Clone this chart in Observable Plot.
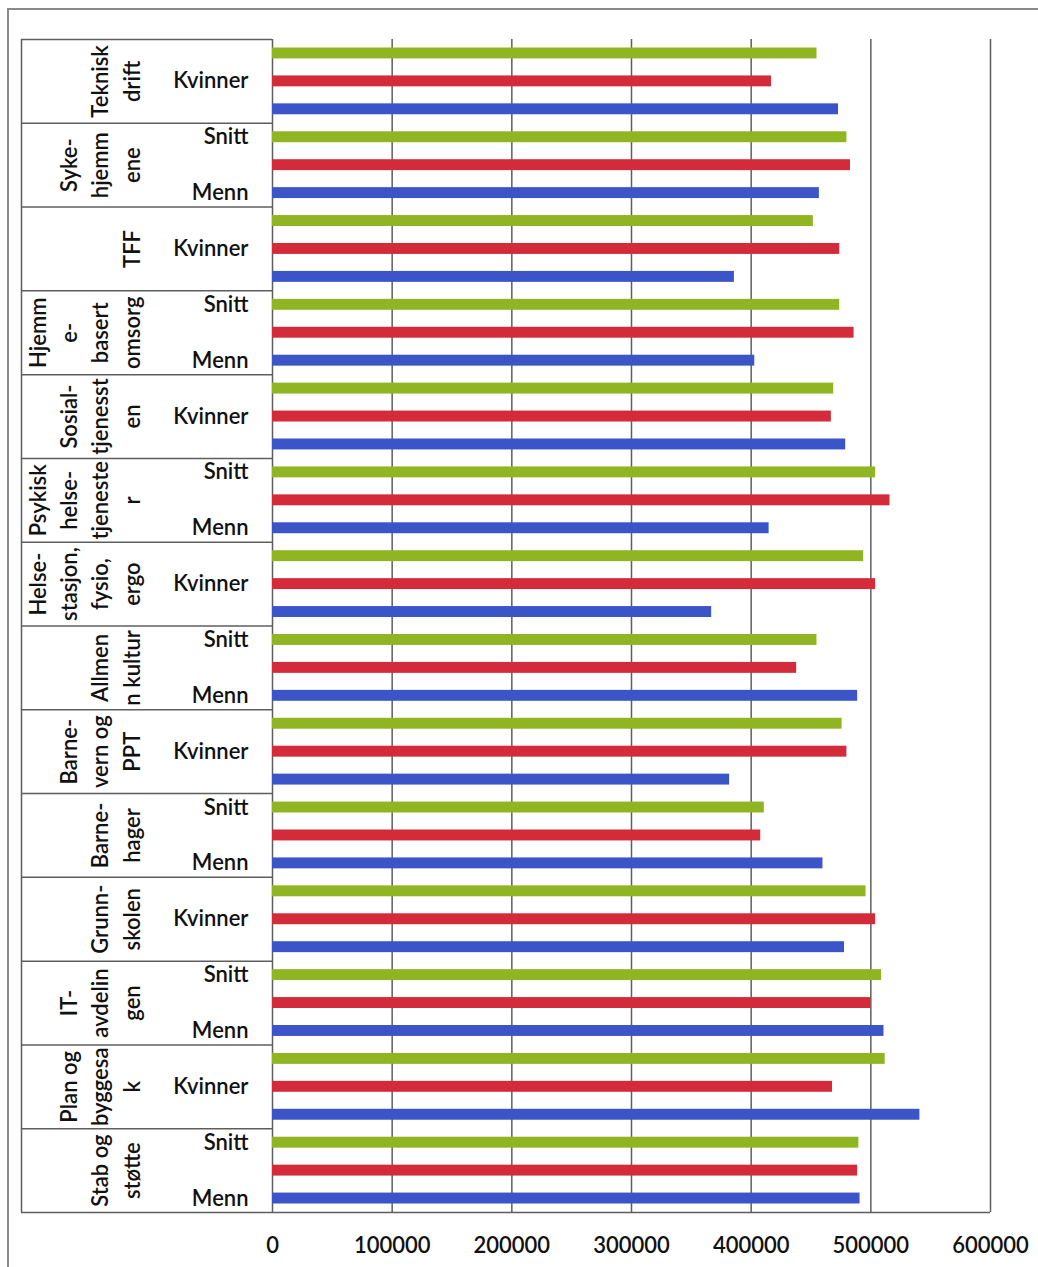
<!DOCTYPE html>
<html>
<head>
<meta charset="utf-8">
<script src="https://cdn.jsdelivr.net/npm/d3@7"></script>
<script src="https://cdn.jsdelivr.net/npm/@observablehq/plot@0.6"></script>
<style>
  html, body { margin: 0; padding: 0; background: #fff; }
  #wrap { position: relative; width: 1038px; height: 1267px; overflow: hidden; }
  #outer { position: absolute; left: 7px; top: 8px; width: 1100px; height: 1300px;
           border-left: 2px solid #8a8a8a; border-top: 2px solid #8a8a8a; box-sizing: border-box; }
  #chart { position: absolute; left: 0; top: 0; }
</style>
</head>
<body>
<div id="wrap"><div id="outer"></div><div id="chart"></div></div>
<script>
// Categories, top to bottom
const categories = ["Teknisk drift", "Sykehjemmene", "TFF", "Hjemmebasert omsorg", "Sosialtjenesten",
  "Psykisk helsetjenester", "Helsestasjon, fysio, ergo", "Allmenn kultur", "Barnevern og PPT",
  "Barnehager", "Grunnskolen", "IT-avdelingen", "Plan og byggesak", "Stab og støtte"];
// Category labels as wrapped in the original
const categoryLabels = ["Teknisk\ndrift", "Syke-\nhjemm\nene", "TFF", "Hjemm\ne-\nbasert\nomsorg",
  "Sosial-\ntjenesst\nen", "Psykisk\nhelse-\ntjeneste\nr", "Helse-\nstasjon,\nfysio,\nergo",
  "Allmen\nn kultur", "Barne-\nvern og\nPPT", "Barne-\nhager", "Grunn-\nskolen",
  "IT-\navdelin\ngen", "Plan og\nbyggesa\nk", "Stab og\nstøtte"];
const series = ["Snitt", "Kvinner", "Menn"];
const snitt   = [455000, 480000, 452000, 474000, 469000, 504000, 494000, 455000, 476000, 411000, 496000, 509000, 512000, 490000];
const kvinner = [417000, 483000, 474000, 486000, 467000, 516000, 504000, 438000, 480000, 408000, 504000, 500000, 468000, 489000];
const menn    = [473000, 457000, 386000, 403000, 479000, 415000, 367000, 489000, 382000, 460000, 478000, 511000, 541000, 491000];
const xTicks = [0, 100000, 200000, 300000, 400000, 500000, 600000];
const colors = ["#8fb622", "#d42b3b", "#3b55c8"];

const values = {Snitt: snitt, Kvinner: kvinner, Menn: menn};
const key = (c, s) => c + "|" + s;
const rows = categories.flatMap((c, i) => series.map(s => ({cat: c, series: s, key: key(c, s), value: values[s][i]})));
const yDomain = rows.map(r => r.key);

const W = 1038, H = 1267;
const mT = 39, mB = 55, mL = 272, mR = 48;
const bw = (H - mT - mB) / yDomain.length;
const labelBoxLeft = 21;
const lineColor = "#5e5e5e";

const plot = Plot.plot({
  width: W, height: H,
  marginTop: mT, marginBottom: mB, marginLeft: mL, marginRight: mR,
  style: {fontFamily: "Lato, sans-serif", fontSize: "22px", fontWeight: 600, color: "#111", background: "transparent"},
  x: {domain: [0, 600000], ticks: xTicks, label: null},
  y: {domain: yDomain, padding: 0, label: null},
  color: {domain: series, range: colors},
  marks: [
    Plot.ruleX(xTicks, {stroke: lineColor, strokeWidth: 1.5}),
    Plot.barX(rows, {y: "key", x: "value", fill: "series", insetTop: 8.5, insetBottom: 8.5}),
    // label table: left edge, category separators, bottom line
    Plot.ruleX([0], {dx: labelBoxLeft - mL, stroke: lineColor, strokeWidth: 1.5}),
    Plot.ruleY(categories, {y: c => key(c, "Snitt"), dy: -bw / 2, insetLeft: labelBoxLeft - mL, insetRight: W - mL - mR, stroke: lineColor, strokeWidth: 1.5}),
    Plot.ruleY([yDomain[yDomain.length - 1]], {dy: bw / 2, insetLeft: labelBoxLeft - mL, stroke: lineColor, strokeWidth: 1.5}),
    Plot.axisX(xTicks, {tickSize: 0, tickPadding: 25, tickFormat: d => String(d), label: null, fill: "#111"}),
    Plot.axisY({tickSize: 0, tickPadding: 24, label: null, fill: "#111",
      tickFormat: d => (yDomain.indexOf(d) % 2 === 1 ? d.split("|")[1] : "")}),
    Plot.text(categories, {y: c => key(c, "Kvinner"), text: (c, i) => categoryLabels[i],
      frameAnchor: "left", dx: 139 - mL, rotate: -90, textAnchor: "middle", lineAnchor: "bottom",
      lineHeight: 1.41, fill: "#111"})
  ]
});
document.getElementById("chart").appendChild(plot);
</script>
</body>
</html>
